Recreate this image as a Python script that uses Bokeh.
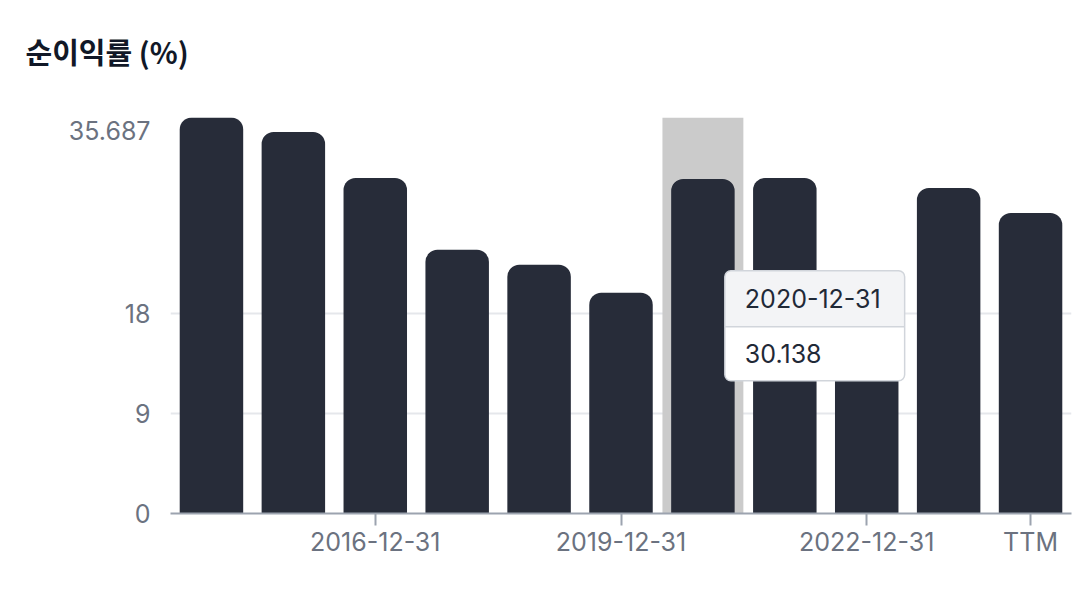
from bokeh.plotting import figure
from bokeh.models import Range1d, FixedTicker, Label, ColumnDataSource
from bokeh.embed import file_html
from bokeh.resources import INLINE

# ---- data ----
categories = ["2014-12-31", "2015-12-31", "2016-12-31", "2017-12-31", "2018-12-31",
              "2019-12-31", "2020-12-31", "2021-12-31", "2022-12-31", "2023-12-31", "TTM"]
values = [35.687, 34.38, 30.24, 23.76, 22.41, 19.89, 30.138, 30.24, 20.5, 29.34, 27.09]
y_ticks = [0, 9, 18, 35.687]
shown_x_labels = ["2016-12-31", "2019-12-31", "2022-12-31", "TTM"]
highlight = "2020-12-31"
title_text = "순이익률 (%)"

n = len(categories)
xs = [i + 0.5 for i in range(n)]
ymax = max(values)

BAR = "#272c39"
LABEL_C = "#6b7280"
AXIS_C = "#9ca3af"
GRID_C = "#e5e7eb"
FONT = "Inter"
FS = "25px"

p = figure(width=1076, height=586, output_backend="svg", toolbar_location=None,
           x_range=Range1d(0, n), y_range=Range1d(0, ymax),
           min_border_left=170, min_border_right=5, min_border_bottom=73,
           min_border_top=117)
p.outline_line_color = None
p.background_fill_color = "white"
p.border_fill_color = "white"

# title (label in the top panel, left of the frame)
p.add_layout(Label(x=0, y=ymax, x_offset=-145, y_offset=67, text=title_text,
                   text_baseline="middle", text_align="left",
                   text_font="Noto Sans CJK KR", text_font_style="bold",
                   text_font_size="29px", text_color="#111827"), "above")

# highlight band
hi = categories.index(highlight)
p.vbar(x=[xs[hi]], top=[ymax], bottom=0, width=0.988, fill_color="#cbcbcb", line_color=None)

src = ColumnDataSource(dict(x=xs, top=values, cat=categories))
p.vbar(x="x", top="top", bottom=0, width=0.775, source=src, fill_color=BAR, line_color=None,
       border_radius=(12, 12, 0, 0))

# axes
p.xaxis.ticker = FixedTicker(ticks=[xs[categories.index(c)] for c in shown_x_labels])
p.xaxis.major_label_overrides = {xs[i]: categories[i] for i in range(n)}
p.xaxis.axis_line_color = AXIS_C
p.xaxis.axis_line_width = 2
p.xaxis.major_tick_line_color = AXIS_C
p.xaxis.major_tick_line_width = 2
p.xaxis.major_tick_out = 12
p.xaxis.major_tick_in = 0
p.xaxis.minor_tick_line_color = None
p.xaxis.major_label_standoff = 1
p.xaxis.major_label_text_font = FONT
p.xaxis.major_label_text_font_size = FS
p.xaxis.major_label_text_color = LABEL_C

p.yaxis.ticker = FixedTicker(ticks=y_ticks)
p.yaxis.major_label_overrides = {ymax: ""}
p.yaxis.axis_line_color = None
p.yaxis.major_tick_line_color = None
p.yaxis.major_tick_out = 0
p.yaxis.major_tick_in = 0
p.yaxis.minor_tick_line_color = None
p.yaxis.major_label_standoff = 20
p.yaxis.major_label_text_font = FONT
p.yaxis.major_label_text_font_size = FS
p.yaxis.major_label_text_color = LABEL_C

# top tick label sits just below its gridline (side-panel label so it is not clipped)
p.add_layout(Label(x=0, y=ymax, x_offset=-20, y_offset=-3, text=f"{ymax:g}",
                   text_align="right", text_baseline="top", text_font=FONT,
                   text_font_size=FS, text_color=LABEL_C), "left")

p.xgrid.grid_line_color = None
p.ygrid.ticker = FixedTicker(ticks=[t for t in y_ticks if t > 0])
p.ygrid.grid_line_color = GRID_C
p.ygrid.grid_line_width = 2

# tooltip (static)
tl, tr = hi + 0.768, hi + 2.963
ttop, tmid, tbot = 21.87, 16.83, 11.97
p.quad(left=[tl], right=[tr], top=[ttop], bottom=[tbot], fill_color="white", line_color=None,
       border_radius=6)
p.quad(left=[tl], right=[tr], top=[ttop], bottom=[tmid], fill_color="#f3f4f6", line_color=None,
       border_radius=(6, 6, 0, 0))
p.segment(x0=[tl], x1=[tr], y0=[tmid], y1=[tmid], line_color="#d1d5db", line_width=1.5)
p.quad(left=[tl], right=[tr], top=[ttop], bottom=[tbot], fill_color=None, line_color="#d1d5db",
       line_width=1.5, border_radius=6)
p.add_layout(Label(x=tl, y=(ttop + tmid) / 2, x_offset=20, text=categories[hi],
                   text_baseline="middle", text_font=FONT, text_font_size=FS,
                   text_color="#1f2937"))
p.add_layout(Label(x=tl, y=(tmid + tbot) / 2, x_offset=20, text=f"{values[hi]:g}",
                   text_baseline="middle", text_font=FONT, text_font_size=FS,
                   text_color="#1f2937"))

open("out.html", "w").write(file_html(p, INLINE))
